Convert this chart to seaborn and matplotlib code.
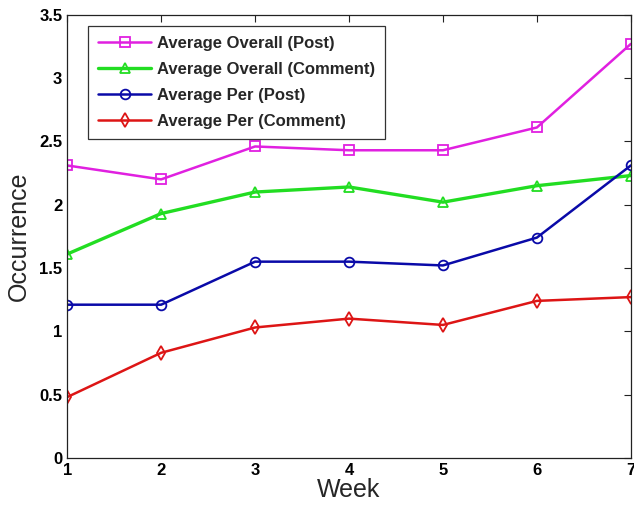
import pandas as pd
import matplotlib
matplotlib.use("Agg")
import matplotlib.pyplot as plt
import seaborn as sns

# Data
weeks = [1, 2, 3, 4, 5, 6, 7]
overall_post = [2.31, 2.20, 2.46, 2.43, 2.43, 2.61, 3.27]
overall_comment = [1.61, 1.93, 2.10, 2.14, 2.02, 2.15, 2.23]
per_post = [1.21, 1.21, 1.55, 1.55, 1.52, 1.74, 2.31]
per_comment = [0.48, 0.83, 1.03, 1.10, 1.05, 1.24, 1.27]

series_names = ["Average Overall (Post)", "Average Overall (Comment)",
                "Average Per (Post)", "Average Per (Comment)"]
series_values = [overall_post, overall_comment, per_post, per_comment]

# Long-form table for seaborn
df = pd.concat([pd.DataFrame({"Week": weeks, "Occurrence": v, "series": n})
                for n, v in zip(series_names, series_values)])

sns.set_theme(style="white")
plt.rcParams['font.family'] = ['Liberation Sans', 'DejaVu Sans']

colors = {"Average Overall (Post)": "#e020e0",
          "Average Overall (Comment)": "#22dd22",
          "Average Per (Post)": "#0a0aa8",
          "Average Per (Comment)": "#dd1515"}
markers = {"Average Overall (Post)": "s",
           "Average Overall (Comment)": "^",
           "Average Per (Post)": "o",
           "Average Per (Comment)": "d"}
widths = {"Average Overall (Post)": 1.8,
          "Average Overall (Comment)": 2.4,
          "Average Per (Post)": 1.8,
          "Average Per (Comment)": 1.8}

fig = plt.figure(figsize=(6.34, 5.11), dpi=100)
ax = fig.add_axes([0.106, 0.104, 0.889, 0.867])

for name in series_names:
    sub = df[df["series"] == name]
    sns.lineplot(data=sub, x="Week", y="Occurrence", ax=ax, color=colors[name],
                 marker=markers[name], markersize=7, markerfacecolor="none",
                 markeredgecolor=colors[name], markeredgewidth=1.3,
                 linewidth=widths[name], label=name)

ax.set_xlim(1, 7)
ax.set_ylim(0, 3.5)
ax.set_xticks(weeks)
ax.set_yticks([0, 0.5, 1, 1.5, 2, 2.5, 3, 3.5])
ax.set_yticklabels(["0", "0.5", "1", "1.5", "2", "2.5", "3", "3.5"])
ax.tick_params(direction="in", top=True, right=True, length=5, width=0.8,
               labelsize=12, colors="#222222", labelcolor="black")
for lab in ax.get_xticklabels() + ax.get_yticklabels():
    lab.set_fontweight("bold")
for s in ax.spines.values():
    s.set_color("#222222")
    s.set_linewidth(0.9)
ax.set_xlabel("Week", fontsize=18, labelpad=0)
ax.set_ylabel("Occurrence", fontsize=18, labelpad=6)

leg = ax.legend(loc="upper left", bbox_to_anchor=(0.037, 0.975), fontsize=12,
                frameon=True, fancybox=False, edgecolor="black",
                handlelength=3.2, handletextpad=0.35, borderpad=0.6,
                borderaxespad=0, labelspacing=0.66)
leg.get_frame().set_linewidth(0.9)
for t in leg.get_texts():
    t.set_fontweight("bold")

fig.savefig("out.png", dpi=100)
